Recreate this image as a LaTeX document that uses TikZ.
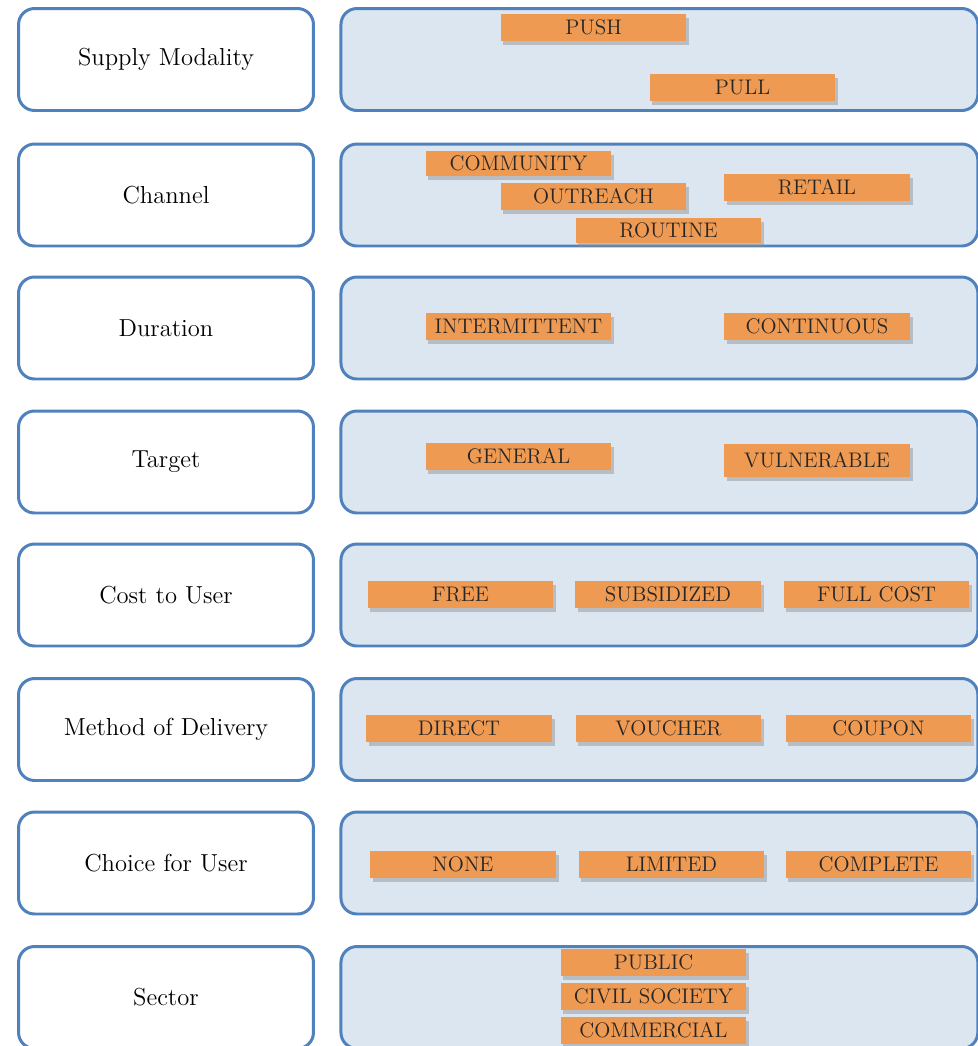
\documentclass[tikz,border=0pt]{standalone}
\usepackage{tikz}
\usetikzlibrary{positioning, shadows}

\definecolor{boxblue}{RGB}{79,129,189}
\definecolor{boxfill}{RGB}{220,230,241}
\definecolor{tagorange}{RGB}{238,154,82}

\begin{document}
\begin{tikzpicture}[x=0.02cm, y=-0.02cm,
        catbox/.style={draw=boxblue, line width=1.7pt, rounded corners=0.32cm, fill=white, minimum width=5.9cm, minimum height=2.04cm, inner sep=0pt, font=\fontsize{14}{16}\selectfont},
        optbox/.style={catbox, fill=boxfill, minimum width=12.74cm},
        tag/.style={fill=tagorange, minimum width=3.72cm, minimum height=0.54cm, inner sep=0pt, text=black!85, font=\fontsize{12}{14}\selectfont, drop shadow={shadow xshift=1.5pt, shadow yshift=-2.5pt, fill=black!45, opacity=0.45}}]
        \useasboundingbox (0,0) rectangle (978,1046);

        \node[catbox](supply) at (166,59.5){Supply Modality};
        \node[catbox](channel) at (166,195){Channel};
        \node[catbox](duration) at (166,328){Duration};
        \node[catbox](target) at (166,462){Target};
        \node[catbox](cost) at (166,595){Cost to User};
        \node[catbox](method) at (166,729.5){Method of Delivery};
        \node[catbox](choice) at (166,863){Choice for User};
        \node[catbox](sector) at (166,997.5){Sector};

        \node[optbox](supplyopt)[right = 0.49cm of supply]{};
        \node[optbox](channelopt)[right = 0.49cm of channel]{};
        \node[optbox](durationopt)[right = 0.49cm of duration]{};
        \node[optbox](targetopt)[right = 0.49cm of target]{};
        \node[optbox](costopt)[right = 0.49cm of cost]{};
        \node[optbox](methodopt)[right = 0.49cm of method]{};
        \node[optbox](choiceopt)[right = 0.49cm of choice]{};
        \node[optbox](sectoropt)[right = 0.49cm of sector]{};

        \node[tag](push) at (593.5,27.5){PUSH};
        \node[tag](pull) at (742.5,87.5){PULL};

        \node[tag, minimum height=0.5cm](community) at (518.5,163.5){COMMUNITY};
        \node[tag](outreach) at (593.5,196.5){OUTREACH};
        \node[tag](retail) at (817,187.5){RETAIL};
        \node[tag, minimum height=0.5cm](routine) at (668.5,230.5){ROUTINE};

        \node[tag](intermittent) at (518.5,326.5){INTERMITTENT};
        \node[tag](continuous) at (817,326.5){CONTINUOUS};

        \node[tag](general) at (518.5,456){GENERAL};
        \node[tag, minimum height=0.66cm](vulnerable) at (817,460){VULNERABLE};

        \node[tag](free) at (460.5,594.5){FREE};
        \node[tag](subsidized) at (668,594.5){SUBSIDIZED};
        \node[tag](fullcost) at (876.5,594.5){FULL COST};

        \node[tag](direct) at (459,728.5){DIRECT};
        \node[tag](voucher) at (668.5,728.5){VOUCHER};
        \node[tag](coupon) at (878.5,728.5){COUPON};

        \node[tag](nochoice) at (463,864.5){NONE};
        \node[tag](limited) at (671.5,864.5){LIMITED};
        \node[tag](complete) at (878.5,864.5){COMPLETE};

        \node[tag](public) at (653.5,962.5){PUBLIC};
        \node[tag](civil) at (653.5,996.5){CIVIL SOCIETY};
        \node[tag](commercial) at (653.5,1030){COMMERCIAL};
\end{tikzpicture}
\end{document}
